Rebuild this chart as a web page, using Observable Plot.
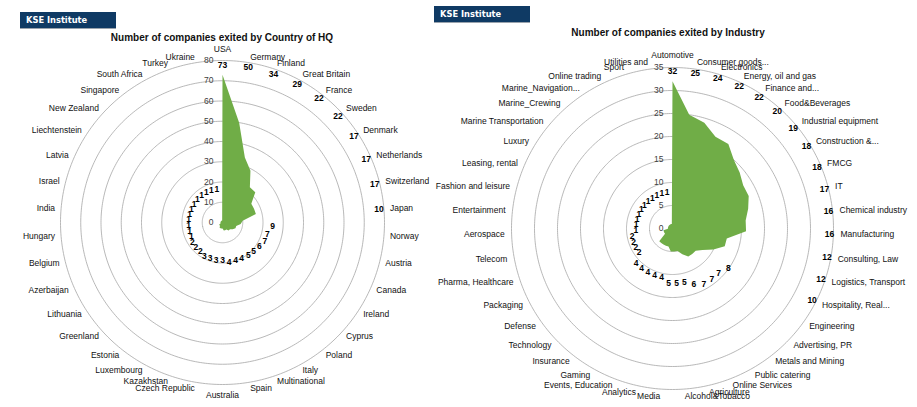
<!DOCTYPE html>
<html><head><meta charset="utf-8">
<script src="https://cdn.jsdelivr.net/npm/d3@7"></script>
<script src="https://cdn.jsdelivr.net/npm/@observablehq/plot@0.6"></script>
<style>
html,body{margin:0;padding:0;background:#fff;}
body{width:917px;height:407px;overflow:hidden;position:relative;font-family:"Liberation Sans",Arial,sans-serif;}
.badge{position:absolute;height:17px;width:96px;background:#0f3a64;border-bottom:1px solid #9aa3ad;color:#fff;font:bold 8.3px "DejaVu Sans",sans-serif;line-height:17px;padding-left:6px;box-sizing:border-box;}
.title{position:absolute;font-weight:bold;font-size:10px;line-height:12px;color:#111;transform:translateX(-50%);white-space:nowrap;}
.chart{position:absolute}
</style></head><body>
<div class="badge" style="left:20px;top:12px">KSE Institute</div>
<div class="badge" style="left:434px;top:6px">KSE Institute</div>
<div class="title" style="left:222px;top:32px">Number of companies exited by Country of HQ</div>
<div class="title" style="left:668px;top:27px">Number of companies exited by Industry</div>
<div id="left" class="chart"></div>
<div id="right" class="chart"></div>
<script>
const countries = ["USA","Germany","Finland","Great Britain","France","Sweden","Denmark","Netherlands","Switzerland","Japan","Norway","Austria","Canada","Ireland","Cyprus","Poland","Italy","Multinational","Spain","Australia","Czech Republic","Kazakhstan","Luxembourg","Estonia","Greenland","Lithuania","Azerbaijan","Belgium","Hungary","India","Israel","Latvia","Liechtenstein","New Zealand","Singapore","South Africa","Turkey","Ukraine"];
const countryValues = [73,50,34,29,22,22,17,17,17,10,9,7,7,6,5,5,4,4,4,3,3,3,3,2,2,2,1,1,1,1,1,1,1,1,1,1,1,1];
const countryTicks = [0,10,20,30,40,50,60,70,80];

const industries = ["Automotive","Consumer goods...","Electronics","Energy, oil and gas","Finance and...","Food&Beverages","Industrial equipment","Construction &...","FMCG","IT","Chemical industry","Manufacturing","Consulting, Law","Logistics, Transport","Hospitality, Real...","Engineering","Advertising, PR","Metals and Mining","Public catering","Online Services","Agriculture","Alcohol&Tobacco","Media","Analytics","Events, Education","Gaming","Insurance","Technology","Defense","Packaging","Pharma, Healthcare","Telecom","Aerospace","Entertainment","Fashion and leisure","Leasing, rental","Luxury","Marine Transportation","Marine_Crewing","Marine_Navigation...","Online trading","Sport","Utilities and"];
const industryValues = [32,25,24,22,22,20,19,18,18,17,16,16,12,12,10,8,7,7,7,6,5,5,5,4,4,4,4,4,2,2,2,2,1,1,1,1,1,1,1,1,1,1,1];
const industryTicks = [0,5,10,15,20,25,30,35];

function radar(el, {labels, values, ticks, pxPerUnit, cx, cy}) {
  const N = labels.length;
  const s = 202;
  const D = s / pxPerUnit;
  const u = px => px / pxPerUnit;
  const angle = i => i * 360 / N;
  const lon = i => 180 - angle(i);
  const idx = d3.range(N);
  const side = i => { const a = angle(i); return (a === 0 || a === 180) ? "middle" : a < 180 ? "start" : "end"; };
  const labelR = i => side(i) === "middle" ? u(173) : u(168);
  const valR = i => values[i] >= 10 ? u(157) : values[i] + u(32);
  const font = "Liberation Sans, Arial, sans-serif";
  const chart = Plot.plot({
    width: 2 * s, height: 2 * s, margin: 0,
    projection: {
      type: "azimuthal-equidistant",
      rotate: [0, -90],
      domain: d3.geoCircle().center([0, 90]).radius(D)(),
      clip: false
    },
    style: {background: "transparent", overflow: "visible", fontFamily: font},
    marks: [
      Plot.geo(ticks.filter(t => t > 0), {
        geometry: t => d3.geoCircle().center([0, 90]).radius(t).precision(1)(),
        stroke: "#a6a6a6", strokeWidth: 0.8, fill: "none"
      }),
      Plot.line(idx, {x: lon, y: i => 90 - values[i], curve: "linear-closed", fill: "#70ad47", stroke: "none"}),
      Plot.text(ticks, {x: 180, y: t => 90 - t, text: t => String(t), textAnchor: "end", dx: -9, fontSize: 8.5, fill: "#404040"}),
      ...["start", "end", "middle"].map(anchor => Plot.text(idx, {
        filter: i => side(i) === anchor,
        x: lon, y: i => 90 - labelR(i), text: i => labels[i],
        textAnchor: anchor, fontSize: 8.5, fill: "#111"
      })),
      Plot.text(idx, {x: lon, y: i => 90 - valR(i), text: i => String(values[i]), fontWeight: "bold", fontSize: 8.5, fill: "#000"})
    ]
  });
  const box = document.getElementById(el);
  box.style.left = (cx - s) + "px";
  box.style.top = (cy - s) + "px";
  box.style.width = (2 * s) + "px";
  box.style.height = (2 * s) + "px";
  box.appendChild(chart);
}

radar("left", {labels: countries, values: countryValues, ticks: countryTicks, pxPerUnit: 162 / 80, cx: 222, cy: 222});
radar("right", {labels: industries, values: industryValues, ticks: industryTicks, pxPerUnit: 161 / 35, cx: 672, cy: 228});
</script>
</body></html>
